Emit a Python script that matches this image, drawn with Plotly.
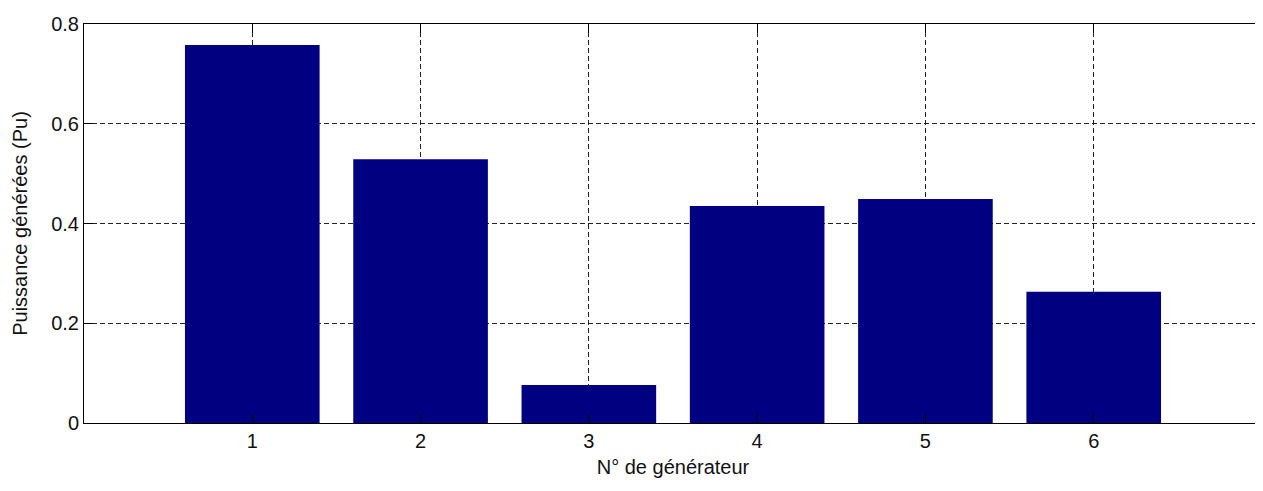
import plotly.graph_objects as go

# données
generateurs = [1, 2, 3, 4, 5, 6]
puissance = [0.758, 0.529, 0.076, 0.435, 0.449, 0.263]
y_ticks = [0, 0.2, 0.4, 0.6, 0.8]
y_labels = ["0", "0.2", "0.4", "0.6", "0.8"]

fig = go.Figure()

fig.add_bar(
    x=generateurs,
    y=puissance,
    width=0.8,
    marker=dict(color="#000080", line=dict(width=0)),
)

axe = dict(
    showline=True,
    linecolor="black",
    linewidth=1,
    mirror="allticks",
    ticks="inside",
    ticklen=9,
    tickcolor="black",
    showgrid=True,
    gridcolor="#222222",
    gridwidth=1,
    griddash="5px,3px",
    zeroline=False,
    automargin=False,
    tickfont=dict(size=20, color="#111111"),
)

fig.update_xaxes(
    axe,
    range=[0, 7],
    tickvals=generateurs,
    title=dict(text="N° de générateur", font=dict(size=20, color="#111111"), standoff=8),
)
fig.update_yaxes(
    axe,
    range=[0, 0.8],
    tickvals=y_ticks,
    ticktext=y_labels,
    title=dict(text="Puissance générées (Pu)", font=dict(size=20, color="#111111"), standoff=18),
)

# la page ajoute une marge de 8 px autour de la figure
fig.update_layout(
    width=1255,
    height=483,
    margin=dict(l=76, r=1, t=16, b=68),
    plot_bgcolor="white",
    paper_bgcolor="white",
    font=dict(family="Liberation Sans, Arial, sans-serif"),
    showlegend=False,
)

fig.write_html("out.html")
